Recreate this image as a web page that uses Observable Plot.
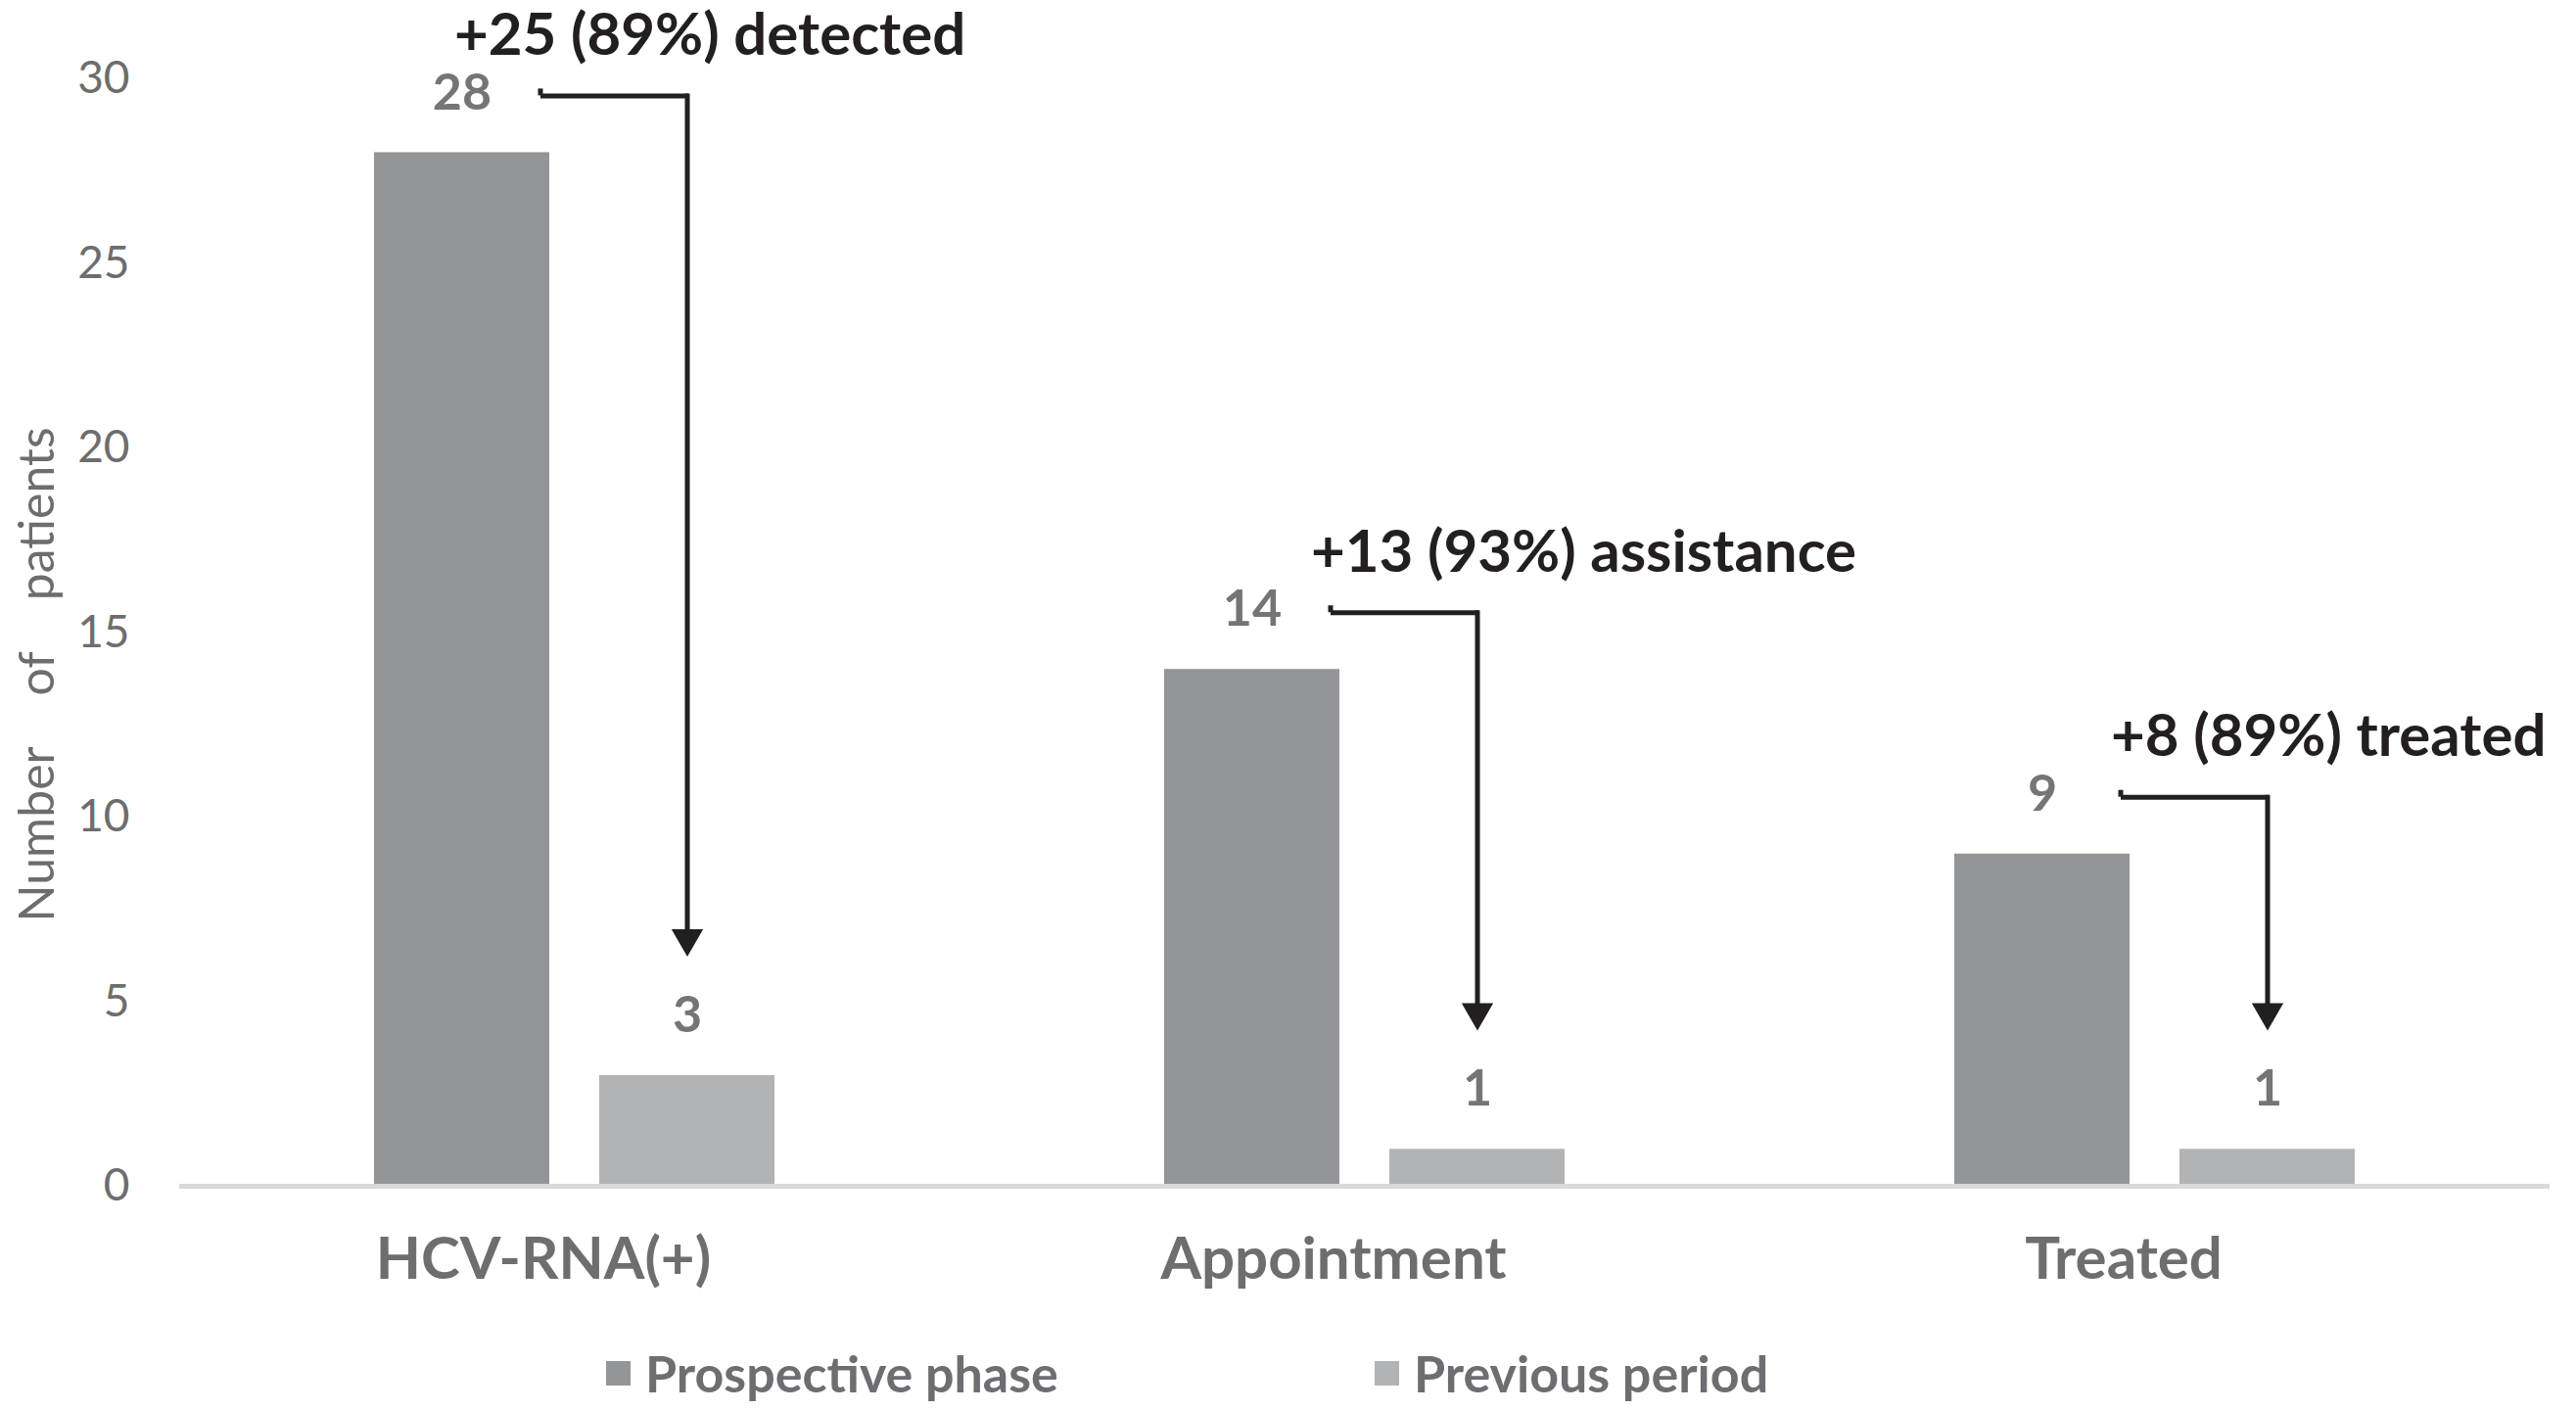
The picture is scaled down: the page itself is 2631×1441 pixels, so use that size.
<!DOCTYPE html>
<html><head><meta charset="utf-8">
<script src="https://cdn.jsdelivr.net/npm/d3@7"></script>
<script src="https://cdn.jsdelivr.net/npm/@observablehq/plot@0.6"></script>
<style>
html,body{margin:0;padding:0;background:#fff;}
body{width:2631px;height:1441px;position:relative;overflow:hidden;font-family:Lato,"Open Sans",sans-serif;}
#legend{position:absolute;left:0;top:1374px;width:2631px;height:56px;}
.item{position:absolute;top:0;height:56px;display:flex;align-items:center;font-weight:700;font-size:52px;color:#6d6e71;white-space:nowrap;}
.sw{width:25px;height:25px;margin-right:15px;}
</style></head><body>
<div id="chart"></div>
<div id="legend"></div>
<script>
const categories = ["HCV-RNA(+)", "Appointment", "Treated"];
const seriesNames = ["Prospective phase", "Previous period"];
const prospective = [28, 14, 9];
const previous = [3, 1, 1];
const changeLabels = ["+25 (89%) detected", "+13 (93%) assistance", "+8 (89%) treated"];
const yTicks = [0, 5, 10, 15, 20, 25, 30];
const yLabel = "Number of patients";

const colors = ["#939598", "#b2b3b5"];
const labelShift = [-8, 60, 70];
const ink = "#231f20";
const bandW = 180;

const bars = categories.flatMap((c, i) => [
  {category: c, series: seriesNames[0], value: prospective[i]},
  {category: c, series: seriesNames[1], value: previous[i]}
]);
const changes = categories.map((c, i) => ({category: c, from: prospective[i], to: previous[i], label: changeLabels[i], i}));

const annotationMarks = changes.map((d, k) => Plot.text([d], {
  fx: "category", x: () => seriesNames[0], y: "from", text: "label",
  dy: -119, dx: labelShift[k], textAnchor: "start",
  fontSize: 60, fontWeight: "bold", fill: ink
}));

const chart = Plot.plot({
  width: 2631, height: 1360,
  marginLeft: 182, marginRight: 27, marginTop: 80, marginBottom: 149,
  style: {fontFamily: "Lato, 'Open Sans', sans-serif", background: "white"},
  fx: {domain: categories, padding: 0, label: null},
  x: {domain: seriesNames, axis: null, paddingInner: 0.22, paddingOuter: 0.857},
  y: {domain: [0, 30]},
  color: {domain: seriesNames, range: colors},
  marks: [
    Plot.barY(bars, {fx: "category", x: "series", y: "value", fill: "series"}),
    Plot.ruleY([0], {stroke: "#d9d9d9", strokeWidth: 5}),
    Plot.text(bars, {fx: "category", x: "series", y: "value", text: d => String(d.value), dy: -61, fontSize: 52, fontWeight: "bold", fill: "#757575"}),
    Plot.ruleY(changes, {fx: "category", y: "from", x1: () => seriesNames[0], x2: () => seriesNames[1], insetLeft: bandW - 10, insetRight: bandW / 2 - 2, dy: -58, stroke: ink, strokeWidth: 5}),
    Plot.ruleX(changes, {fx: "category", x: () => seriesNames[0], y1: "from", y2: "from", dx: bandW / 2 - 10, insetTop: -65, insetBottom: 58, stroke: ink, strokeWidth: 5}),
    Plot.ruleX(changes, {fx: "category", x: () => seriesNames[1], y1: "from", y2: "to", insetTop: -60, insetBottom: 135, stroke: ink, strokeWidth: 5}),
    Plot.dot(changes, {fx: "category", x: () => seriesNames[1], y: "to", dy: -140, symbol: "triangle", r: 12, rotate: 180, fill: ink, stroke: null}),
    ...annotationMarks,
    Plot.axisY({ticks: yTicks, tickSize: 0, tickPadding: 51, fontSize: 46, color: "#6d6d6d", label: null}),
    Plot.text([yLabel], {fx: () => categories[0], frameAnchor: "left", textAnchor: "middle", text: d => d, rotate: -90, dx: -145, dy: 43, fontSize: 50, fill: "#6d6d6d"}),
    Plot.axisFx({anchor: "bottom", tickSize: 0, tickPadding: 52, fontSize: 60, fontWeight: "bold", color: "#6e6e70", dx: -32, label: null})
  ]
});
document.getElementById("chart").appendChild(chart);
d3.select(chart).selectAll("text").filter(function() { return this.textContent === yLabel; }).style("word-spacing", "40px");

const legend = document.getElementById("legend");
const legendLeft = [619, 1404];
seriesNames.forEach((name, i) => {
  const item = document.createElement("div");
  item.className = "item";
  item.style.left = legendLeft[i] + "px";
  const sw = document.createElement("span");
  sw.className = "sw";
  sw.style.background = colors[i];
  const t = document.createElement("span");
  t.textContent = name;
  item.appendChild(sw);
  item.appendChild(t);
  legend.appendChild(item);
});
</script>
</body></html>
